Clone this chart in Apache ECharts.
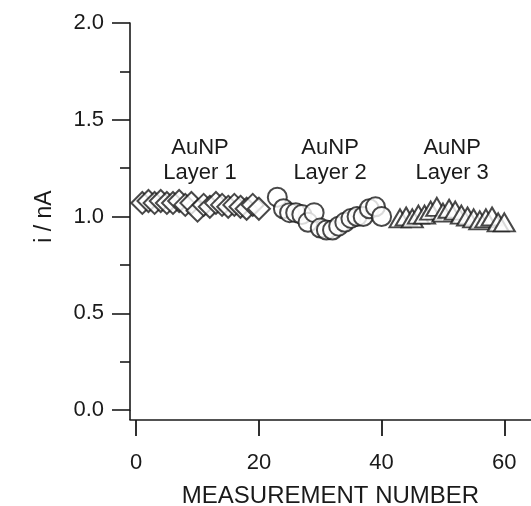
<!DOCTYPE html>
<html>
<head>
<meta charset="utf-8">
<script src="https://cdn.jsdelivr.net/npm/echarts@6/dist/echarts.min.js"></script>
<style>
html,body{margin:0;padding:0;background:#fff;}
#chart{width:531px;height:506px;}
</style>
</head>
<body>
<div id="chart"></div>
<script>
// ---- data ----
const layer1X = [1,2,3,4,5,6,7,8,9,10,11,12,13,14,15,16,17,18,19,20];
const layer1Y = [1.07,1.08,1.07,1.08,1.07,1.07,1.08,1.06,1.07,1.03,1.06,1.05,1.07,1.06,1.05,1.06,1.05,1.04,1.06,1.04];
const layer2X = [23,24,25,26,27,28,29,30,31,32,33,34,35,36,37,38,39,40];
const layer2Y = [1.10,1.04,1.02,1.02,1.01,0.97,1.02,0.94,0.93,0.93,0.95,0.97,0.99,1.00,1.00,1.04,1.05,1.00];
const layer3X = [43,44,45,46,47,48,49,50,51,52,53,54,55,56,57,58,59,60];
const layer3Y = [0.99,1.00,0.99,1.01,1.01,1.03,1.05,1.02,1.04,1.03,1.01,1.00,0.99,0.98,0.99,1.00,0.97,0.97];
const xTicks = [0,20,40,60];
const yTicks = [0,0.5,1.0,1.5,2.0];
const annotations = ['AuNP\nLayer 1','AuNP\nLayer 2','AuNP\nLayer 3'];
const xName = 'MEASUREMENT NUMBER';
const yName = 'i / nA';

const FONT = '"Liberation Sans", Arial, Helvetica, sans-serif';
const INK = '#1a1a1a';
const zip = (xs, ys) => xs.map((x, i) => [x, ys[i]]);

const chart = echarts.init(document.getElementById('chart'), null, {renderer: 'canvas'});
const X_MIN = -1.01, X_MAX = 64.35;

const markerStyle = {color: '#ffffff', borderColor: INK, borderWidth: 2};

chart.setOption({
  animation: false,
  backgroundColor: '#ffffff',
  grid: {left: 130, right: 0, top: 23, bottom: 96, containLabel: false, outerBoundsMode: 'none'},
  xAxis: {
    type: 'value', min: X_MIN, max: X_MAX, offset: 10,
    name: xName, nameLocation: 'middle', nameGap: 64,
    nameTextStyle: {fontFamily: FONT, fontSize: 24, color: INK},
    axisLine: {show: true, onZero: false, lineStyle: {color: INK, width: 1.6}},
    axisTick: {show: true, inside: false, length: 16, lineStyle: {color: INK, width: 1.8}, customValues: xTicks},
    axisLabel: {show: true, margin: 32, fontFamily: FONT, fontSize: 22, color: INK, customValues: xTicks},
    splitLine: {show: false}
  },
  yAxis: {
    type: 'value', min: 0, max: 2, interval: 0.5,
    name: yName, nameLocation: 'middle', nameRotate: 90, nameGap: 74,
    nameTextStyle: {fontFamily: FONT, fontSize: 23, color: INK},
    axisLine: {show: true, onZero: false, lineStyle: {color: INK, width: 1.6}},
    axisTick: {show: true, inside: false, length: 18, lineStyle: {color: INK, width: 1.6}},
    minorTick: {show: true, splitNumber: 2, length: 10, lineStyle: {color: INK, width: 1.6}},
    axisLabel: {show: true, margin: 26, fontFamily: FONT, fontSize: 22, color: INK,
      formatter: v => v.toFixed(1)},
    splitLine: {show: false}, minorSplitLine: {show: false}
  },
  series: [
    {type: 'scatter', symbol: 'diamond', symbolSize: [22, 22], data: zip(layer1X, layer1Y),
     itemStyle: markerStyle, emphasis: {disabled: true}, clip: false},
    {type: 'scatter', symbol: 'circle', symbolSize: 19, data: zip(layer2X, layer2Y),
     itemStyle: markerStyle, emphasis: {disabled: true}, clip: false},
    {type: 'scatter', symbol: 'triangle', symbolSize: [21, 18], data: zip(layer3X, layer3Y),
     itemStyle: markerStyle, emphasis: {disabled: true}, clip: false}
  ]
});

// y axis line extension down to the offset x axis, and annotations
const origin = chart.convertToPixel({gridIndex: 0}, [X_MIN, 0]);
const annX = [10.4, 31.6, 51.5];
const annY = 1.29;
const gfx = [{
  type: 'line', shape: {x1: origin[0], y1: origin[1], x2: origin[0], y2: origin[1] + 10},
  style: {stroke: INK, lineWidth: 1.6}, silent: true
}];
annotations.forEach((t, i) => {
  const p = chart.convertToPixel({gridIndex: 0}, [annX[i], annY]);
  gfx.push({type: 'text', x: p[0], y: p[1], silent: true,
    style: {text: t, fontFamily: FONT, fontSize: 22, fill: INK, align: 'center', verticalAlign: 'middle', lineHeight: 25}});
});
chart.setOption({graphic: gfx});
</script>
</body>
</html>
